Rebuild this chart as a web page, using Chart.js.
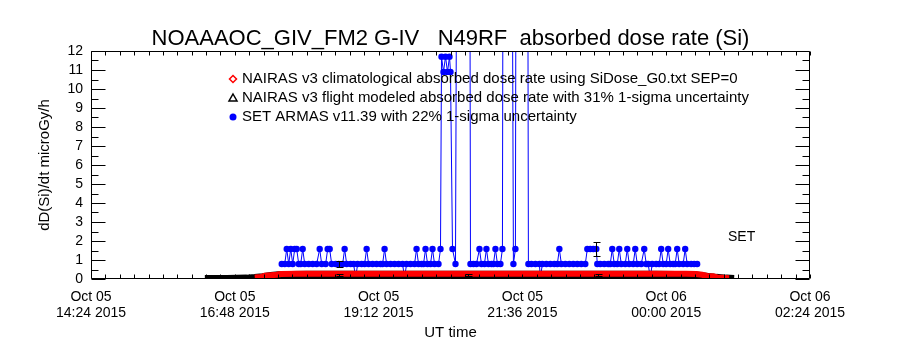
<!DOCTYPE html>
<html>
<head>
<meta charset="utf-8">
<script src="https://cdn.jsdelivr.net/npm/chart.js@4.4.0/dist/chart.umd.min.js"></script>
<style>
  html, body { margin: 0; padding: 0; background: #fff; }
</style>
</head>
<body>
<canvas id="dose" width="900" height="350"></canvas>
<script>
// times are minutes after Oct 05 2015 00:00 UT
const axisStart = 864;   // Oct 05 14:24
const axisEnd = 1584;    // Oct 06 02:24
const tickStep = 144;
const minorStep = 14.4;

// NAIRAS v3 climatological
const climTime = [1028, 1034, 1038, 1044, 1050, 1054, 1070, 1100, 1130, 1160, 1190, 1220, 1250, 1280,
  1310, 1340, 1370, 1400, 1430, 1460, 1470, 1476, 1481, 1487, 1491, 1497, 1503];
const climDose = [0.08, 0.1, 0.17, 0.2, 0.22, 0.26, 0.27, 0.27, 0.28, 0.27, 0.27, 0.28, 0.27, 0.27,
  0.28, 0.27, 0.27, 0.27, 0.28, 0.27, 0.26, 0.22, 0.16, 0.14, 0.08, 0.06, 0.04];

// NAIRAS v3 flight modeled
const flightTime = [978, 990, 1000, 1010, 1020, 1028, 1036, 1044, 1052, 1064, 1080, 1096, 1112, 1130,
  1150, 1170, 1190, 1210, 1226, 1242, 1260, 1280, 1300, 1320, 1340, 1356, 1372, 1390, 1410, 1430,
  1450, 1462, 1470, 1480, 1490, 1500, 1508];
const flightDose = [0, 0, 0, 0.01, 0.02, 0.05, 0.1, 0.16, 0.2, 0.21, 0.22, 0.22, 0.22, 0.23,
  0.22, 0.22, 0.22, 0.23, 0.22, 0.22, 0.22, 0.22, 0.23, 0.22, 0.22, 0.22, 0.22, 0.22, 0.22, 0.22,
  0.21, 0.2, 0.18, 0.12, 0.06, 0.02, 0];

// SET ARMAS v11.39 measurements
const setTime = [
  1055, 1058, 1060, 1062, 1064, 1066, 1068, 1070, 1072, 1074,
  1076, 1078, 1082, 1086, 1090, 1093, 1095, 1099, 1101, 1103,
  1105, 1109, 1112, 1116, 1118, 1120, 1124, 1127, 1129, 1131,
  1135, 1138, 1140, 1142, 1146, 1150, 1154, 1156, 1158, 1160,
  1164, 1168, 1172, 1176, 1178, 1180, 1184, 1188, 1190, 1192,
  1195, 1197, 1199, 1201, 1204, 1206, 1208, 1212, 1214, 1215,
  1217, 1219, 1221, 1223, 1224, 1226, 1229, 1231, 1243, 1244,
  1247, 1250, 1253, 1255, 1258, 1260, 1262, 1265, 1267, 1269,
  1271, 1274, 1276, 1277, 1285, 1287, 1289, 1290, 1301, 1302,
  1305, 1309, 1313, 1314, 1316, 1320, 1324, 1328, 1331, 1333,
  1335, 1339, 1343, 1347, 1351, 1355, 1359, 1361, 1364, 1367,
  1370, 1371, 1374, 1378, 1382, 1384, 1386, 1388, 1391, 1393,
  1395, 1399, 1401, 1403, 1407, 1409, 1411, 1415, 1418, 1420,
  1422, 1424, 1426, 1430, 1433, 1435, 1437, 1440, 1442, 1444,
  1447, 1449, 1451, 1453, 1457, 1459, 1461, 1465, 1468, 1471];
const setDose = [
  0.79, 0.79, 1.58, 0.79, 1.58, 0.79, 1.58, 1.58, 0.79, 0.79,
  1.58, 0.79, 0.79, 0.79, 0.79, 1.58, 0.79, 0.79, 1.58, 1.58,
  0.79, 0.79, 0.79, 0.79, 1.58, 0.79, 0.79, 0.79, 0.05, 0.79,
  0.79, 0.79, 1.58, 0.79, 0.79, 0.79, 0.79, 0.79, 1.58, 0.79,
  0.79, 0.79, 0.79, 0.79, 0.05, 0.79, 0.79, 0.79, 1.58, 0.79,
  0.79, 0.79, 1.58, 0.79, 0.79, 1.58, 0.79, 0.79, 1.58, 11.7,
  10.9, 11.7, 10.9, 11.7, 10.9, 1.58, 0.79, 30, 30, 0.79,
  0.79, 0.79, 1.58, 0.79, 0.79, 1.58, 0.79, 0.79, 0.79, 1.58,
  0.79, 0.79, 1.58, 30, 30, 0.79, 1.58, 30, 30, 0.79,
  0.79, 0.79, 0.79, 0.05, 0.79, 0.79, 0.79, 0.79, 0.79, 1.58,
  0.79, 0.79, 0.79, 0.79, 0.79, 0.79, 0.79, 1.58, 1.58, 1.58,
  1.58, 0.79, 0.79, 0.79, 0.79, 0.79, 1.58, 0.79, 0.79, 1.58,
  0.79, 0.79, 1.58, 0.79, 0.79, 1.58, 0.79, 0.79, 1.58, 0.79,
  0.79, 0.05, 0.79, 0.79, 0.79, 1.58, 0.79, 0.79, 1.58, 0.79,
  0.79, 0.79, 1.58, 0.79, 0.79, 1.58, 0.79, 0.79, 0.79, 0.79];

// 1-sigma uncertainties and the samples that carry an error bar
const flightSigma = 0.31;
const setSigma = 0.22;
const flightErrTimes = [1112, 1242, 1372];
const setErrTimes = [1112, 1370];

const legendText = [
  'NAIRAS v3 climatological absorbed dose rate using SiDose_G0.txt SEP=0',
  'NAIRAS v3 flight modeled absorbed dose rate with 31% 1-sigma uncertainty',
  'SET ARMAS v11.39 with 22% 1-sigma uncertainty'
];
const titleText = 'NOAAAOC_GIV_FM2 G-IV   N49RF  absorbed dose rate (Si)';

const FONT = '"Liberation Sans", Arial, sans-serif';
const pts = (xs, ys) => xs.map((t, i) => ({x: t, y: ys[i]}));

function fmtTime(v) {
  const day = v >= 1440 ? 'Oct 06' : 'Oct 05';
  const m = Math.round(v) % 1440;
  const hh = String(Math.floor(m / 60)).padStart(2, '0');
  const mm = String(m % 60).padStart(2, '0');
  return [day, hh + ':' + mm + ' 2015'];
}

const decor = {
  id: 'decor',
  afterDatasetsDraw(chart) {
    const {ctx, chartArea: a, scales: {x, y}} = chart;
    ctx.save();
    ctx.strokeStyle = '#000';
    ctx.lineWidth = 1;

    // error bars
    function errBars(times, vals, sigma, list) {
      list.forEach(t => {
        const i = times.indexOf(t);
        const v = vals[i];
        const px = Math.round(x.getPixelForValue(t)) + 0.5;
        const y0 = Math.round(y.getPixelForValue(v * (1 - sigma))) + 0.5;
        const y1 = Math.round(y.getPixelForValue(v * (1 + sigma))) + 0.5;
        ctx.beginPath();
        ctx.moveTo(px, y0); ctx.lineTo(px, y1);
        ctx.moveTo(px - 3, y0); ctx.lineTo(px + 4, y0);
        ctx.moveTo(px - 3, y1); ctx.lineTo(px + 4, y1);
        ctx.stroke();
      });
    }
    errBars(flightTime, flightDose, flightSigma, flightErrTimes);
    errBars(setTime, setDose, setSigma, setErrTimes);

    // plot frame with inward ticks
    const L = a.left + 0.5, R = a.right - 0.5, T = a.top + 0.5, B = a.bottom - 0.5;
    ctx.beginPath();
    ctx.rect(L, T, R - L, B - T);
    for (let v = 0; v <= 12; v += 0.5) {
      const py = Math.round(y.getPixelForValue(v)) + 0.5;
      const len = Number.isInteger(v) ? 14 : 7;
      ctx.moveTo(L, py); ctx.lineTo(L + len, py);
      ctx.moveTo(R, py); ctx.lineTo(R - len, py);
    }
    for (let t = axisStart; t <= axisEnd + 0.01; t += minorStep) {
      const px = Math.round(x.getPixelForValue(t)) + 0.5;
      ctx.moveTo(px, B); ctx.lineTo(px, B - 4);
      ctx.moveTo(px, T); ctx.lineTo(px, T + 4);
    }
    ctx.stroke();
    ctx.restore();
  },
  afterDraw(chart) {
    const {ctx, chartArea: a} = chart;
    ctx.save();
    ctx.fillStyle = '#000';
    ctx.textBaseline = 'middle';

    ctx.font = '22px ' + FONT;
    ctx.textAlign = 'center';
    ctx.fillText(titleText, (a.left + a.right) / 2, 39);

    // legend
    ctx.font = '15px ' + FONT;
    ctx.textAlign = 'left';
    const rows = [79, 98, 117];
    const sx = 233, tx = 242;
    ctx.lineWidth = 1.5;
    // open diamond
    ctx.strokeStyle = '#ff0000';
    ctx.beginPath();
    ctx.moveTo(sx, rows[0] - 3.5); ctx.lineTo(sx + 3.5, rows[0]);
    ctx.lineTo(sx, rows[0] + 3.5); ctx.lineTo(sx - 3.5, rows[0]); ctx.closePath();
    ctx.stroke();
    // open triangle
    ctx.strokeStyle = '#000';
    ctx.beginPath();
    ctx.moveTo(sx, rows[1] - 4); ctx.lineTo(sx + 4, rows[1] + 3);
    ctx.lineTo(sx - 4, rows[1] + 3); ctx.closePath();
    ctx.stroke();
    // filled circle
    ctx.fillStyle = '#0000ff';
    ctx.beginPath();
    ctx.arc(sx, rows[2], 3.5, 0, Math.PI * 2);
    ctx.fill();
    ctx.fillStyle = '#000';
    legendText.forEach((s, i) => ctx.fillText(s, tx, rows[i]));

    ctx.font = '14px ' + FONT;
    ctx.fillText('SET', 728, 237);
    ctx.restore();
  }
};

new Chart(document.getElementById('dose'), {
  type: 'line',
  data: {
    datasets: [
      {
        label: legendText[0],
        data: pts(climTime, climDose),
        borderColor: '#ff0000',
        borderWidth: 6,
        pointRadius: 0,
        order: 1,
        clip: 0
      },
      {
        label: legendText[1],
        data: pts(flightTime, flightDose),
        borderColor: '#000000',
        borderWidth: 8,
        pointRadius: 0,
        order: 2,
        clip: 0
      },
      {
        label: legendText[2],
        data: pts(setTime, setDose),
        borderColor: '#0000ff',
        backgroundColor: '#0000ff',
        borderWidth: 1,
        pointRadius: 3.2,
        pointBorderWidth: 0,
        order: 3,
        clip: 0
      }
    ]
  },
  options: {
    responsive: false,
    animation: false,
    layout: { padding: { left: 0, right: 90, top: 51, bottom: 0 } },
    plugins: { legend: { display: false }, title: { display: false }, tooltip: { enabled: false } },
    scales: {
      x: {
        type: 'linear',
        min: axisStart,
        max: axisEnd,
        grid: { display: false, drawTicks: false },
        border: { display: false },
        ticks: {
          stepSize: tickStep,
          autoSkip: false,
          maxRotation: 0,
          padding: 10,
          color: '#000',
          font: { family: FONT, size: 14, lineHeight: 1.15 },
          callback: v => fmtTime(v)
        },
        title: {
          display: true,
          text: 'UT time',
          color: '#000',
          font: { family: FONT, size: 15, lineHeight: 1.2 },
          padding: { top: 0, bottom: 8 }
        },
        afterFit(s) { s.height = 71; }
      },
      y: {
        min: 0,
        max: 12,
        grid: { display: false, drawTicks: false },
        border: { display: false },
        ticks: {
          stepSize: 1,
          autoSkip: false,
          padding: 8,
          color: '#000',
          font: { family: FONT, size: 14 }
        },
        title: {
          display: true,
          text: 'dD(Si)/dt microGy/h',
          color: '#000',
          font: { family: FONT, size: 15, lineHeight: 1.2 },
          padding: { top: 36, bottom: 0 }
        },
        afterFit(s) { s.width = 91; }
      }
    }
  },
  plugins: [decor]
});
</script>
</body>
</html>
